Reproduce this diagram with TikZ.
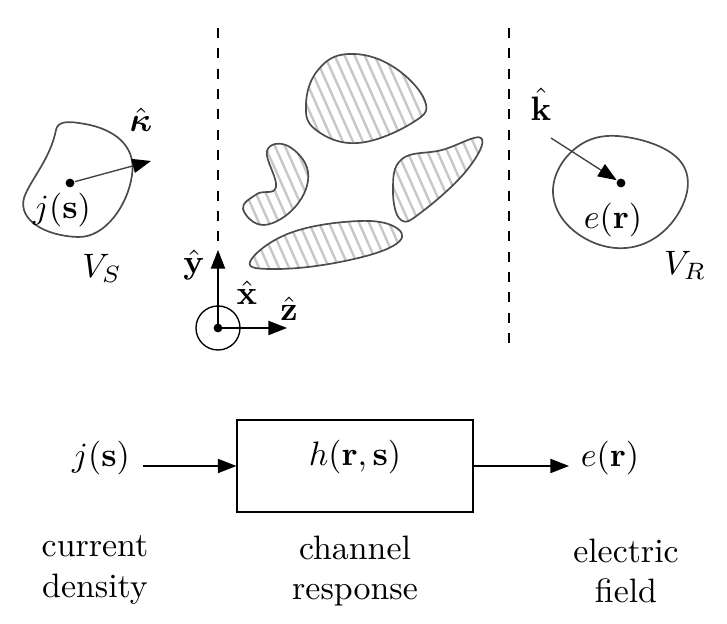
\documentclass[tikz,border=0pt]{standalone}
\usepackage{amsmath,bm}
\usetikzlibrary{arrows.meta}

\tikzset{
  tip/.style={-{Triangle[length=5.5pt,width=4.2pt,color=black]}},
  blob/.style={draw=black!70,line width=0.5pt},
  hatchline/.style={draw=black!22,line width=0.7pt},
  dot/.style={circle,fill=black,inner sep=0pt,minimum size=2.6pt},
}

\begin{document}
\begin{tikzpicture}[x=0.01037cm,y=-0.01037cm]
\useasboundingbox (0,0) rectangle (727,624);

% dashed boundaries
\draw[dashed] (218,28) -- (218,248);
\draw[dashed] (509,28) -- (509,352);

% source volume
\draw[blob] (56,130) .. controls (58,120) and (70,121) .. (90,125)
  .. controls (120,132) and (136,150) .. (132,175)
  .. controls (128,205) and (105,238) .. (78,237)
  .. controls (45,236) and (18,220) .. (24,198)
  .. controls (30,180) and (50,160) .. (56,130) -- cycle;
\node[dot] (js) at (70,183) {};
\coordinate (kap) at (151,161);
\draw[tip,black!75] (js) -- (kap);
\node (kaplab) at (141,120) {$\hat{\bm{\kappa}}$};
\node (jslab) at (62,210) {$j(\mathbf{s})$};
\node (vs) at (102,268) {$V_S$};

% scatterers
\begin{scope}
\clip plot[smooth cycle,tension=0.7] coordinates {(306,104) (318,70) (348,54) (392,66) (425,101) (412,123) (358,143) (316,130)};
\foreach \k in {-200,-190,...,700} \draw[hatchline] (\k,0) -- (\k+160,360);
\end{scope}
\draw[blob] plot[smooth cycle,tension=0.7] coordinates {(306,104) (318,70) (348,54) (392,66) (425,101) (412,123) (358,143) (316,130)};

\begin{scope}
\clip plot[smooth cycle,tension=0.7] coordinates {(267,151) (288,146) (308,172) (296,206) (264,225) (243,209) (257,194) (276,187)};
\foreach \k in {-200,-190,...,700} \draw[hatchline] (\k,0) -- (\k+160,360);
\end{scope}
\draw[blob] plot[smooth cycle,tension=0.7] coordinates {(267,151) (288,146) (308,172) (296,206) (264,225) (243,209) (257,194) (276,187)};

\begin{scope}
\clip plot[smooth cycle,tension=0.7] coordinates {(402,159) (442,150) (481,138) (467,170) (423,211) (401,220) (393,190)};
\foreach \k in {-200,-190,...,700} \draw[hatchline] (\k,0) -- (\k+160,360);
\end{scope}
\draw[blob] plot[smooth cycle,tension=0.7] coordinates {(402,159) (442,150) (481,138) (467,170) (423,211) (401,220) (393,190)};

\begin{scope}
\clip plot[smooth cycle,tension=0.7] coordinates {(250,262) (290,233) (360,221) (398,229) (393,246) (340,262) (277,269)};
\foreach \k in {-200,-190,...,700} \draw[hatchline] (\k,0) -- (\k+160,360);
\end{scope}
\draw[blob] plot[smooth cycle,tension=0.7] coordinates {(250,262) (290,233) (360,221) (398,229) (393,246) (340,262) (277,269)};

% receiver volume
\draw[blob] plot[smooth cycle,tension=0.7] coordinates {(553,190) (580,145) (632,138) (683,165) (678,214) (633,247) (578,234)};
\node[dot] (er) at (621,183) {};
\coordinate (kin) at (551,138);
\draw[tip,black!75] (kin) -- (er);
\node (klab) at (541,104) {$\hat{\mathbf{k}}$};
\node (erlab) at (613,220) {$e(\mathbf{r})$};
\node (vr) at (685,265) {$V_R$};

% axes
\node[dot] (o) at (218,328) {};
\draw (o) circle (6.5pt);
\coordinate (yend) at (218,250);
\coordinate (zend) at (287,328);
\draw[tip] (o.center) -- (yend);
\draw[tip] (o.center) -- (zend);
\node (ylab) at (194,265) {$\hat{\mathbf{y}}$};
\node (xlab) at (247,293) {$\hat{\mathbf{x}}$};
\node (zlab) at (289,309) {$\hat{\mathbf{z}}$};

% block diagram
\node[draw,minimum width=69.6pt,minimum height=27.2pt] (h) at (355,466) {};
\node (hlab) at (355,457) {$h(\mathbf{r},\mathbf{s})$};
\node (jin) at (101,458) {$j(\mathbf{s})$};
\node (eout) at (610,458) {$e(\mathbf{r})$};
\coordinate (jtail) at (143,466);
\coordinate (ehead) at (569,466);
\draw[tip] (jtail) -- (h.west);
\draw[tip] (h.east) -- (ehead);

\node[align=center] (cd) at (95,570) {current\\density};
\node[align=center] (cr) at (355,571) {channel\\response};
\node[align=center] (ef) at (626,571) {electric\\field};
\end{tikzpicture}
\end{document}
